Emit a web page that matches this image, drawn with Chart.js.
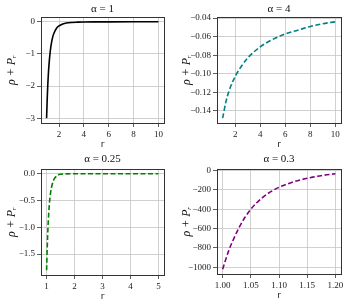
<!DOCTYPE html>
<html>
<head>
<meta charset="utf-8">
<script src="https://cdn.jsdelivr.net/npm/chart.js@4"></script>
<style>
  body { margin: 0; background: #fff; }
  #wrap { position: relative; width: 349px; height: 307px; }
  canvas { position: absolute; }
</style>
</head>
<body>
<div id="wrap">
  <canvas id="c1"></canvas>
  <canvas id="c2"></canvas>
  <canvas id="c3"></canvas>
  <canvas id="c4"></canvas>
</div>
<script>
// alpha = 1
const r1 = [1, 1.05, 1.1, 1.15, 1.2, 1.3, 1.4, 1.5, 1.6, 1.8, 2.0, 2.3, 2.6, 3, 3.5, 4, 5, 6, 8, 10];
const rho1 = [-3, -2.4, -1.93, -1.58, -1.3, -0.9, -0.64, -0.46, -0.35, -0.2, -0.125, -0.065, -0.036, -0.019, -0.01, -0.005, -0.002, -0.001, 0, 0];
// alpha = 4
const r2 = [1, 1.25, 1.5, 2, 2.5, 3, 4, 5, 6, 7, 8, 9, 10];
const rho2 = [-0.148, -0.131, -0.119, -0.103, -0.092, -0.083, -0.071, -0.063, -0.057, -0.053, -0.049, -0.046, -0.044];
// alpha = 0.25
const r3 = [1, 1.025, 1.05, 1.075, 1.1, 1.15, 1.2, 1.25, 1.3, 1.4, 1.5, 1.7, 2, 3, 4, 5];
const rho3 = [-1.8, -1.35, -1.0, -0.75, -0.56, -0.33, -0.2, -0.12, -0.075, -0.025, -0.008, -0.001, 0, 0, 0, 0];
// alpha = 0.3
const r4 = [1.00, 1.01, 1.02, 1.03, 1.04, 1.05, 1.06, 1.07, 1.08, 1.09, 1.10, 1.12, 1.14, 1.16, 1.18, 1.20];
const rho4 = [-1020, -840, -700, -580, -480, -400, -335, -282, -238, -202, -172, -127, -93, -67, -47, -32];

const titles = ['α = 1', 'α = 4', 'α = 0.25', 'α = 0.3'];

const panels = [
  { id: 'c1', x: 0, y: 0, w: 175, h: 150, area: [41, 17, 164, 123],
    xs: r1, ys: rho1, color: '#000000', dash: [],
    xmin: 0.55, xmax: 10.45, xstep: 2, xdec: 0,
    ymin: -3.15, ymax: 0.15, ystep: 1, ydec: 0 },
  { id: 'c2', x: 175, y: 0, w: 174, h: 150, area: [42, 17, 166, 123],
    xs: r2, ys: rho2, color: '#008080', dash: [5, 2.5],
    xmin: 0.55, xmax: 10.45, xstep: 2, xdec: 0,
    ymin: -0.1532, ymax: -0.0388, ystep: 0.02, ydec: 2 },
  { id: 'c3', x: 0, y: 150, w: 175, h: 157, area: [41, 19, 164, 125],
    xs: r3, ys: rho3, color: '#008000', dash: [5, 2.5],
    xmin: 0.8, xmax: 5.2, xstep: 1, xdec: 0,
    ymin: -1.89, ymax: 0.09, ystep: 0.5, ydec: 1 },
  { id: 'c4', x: 175, y: 150, w: 174, h: 157, area: [42, 19, 166, 124],
    xs: r4, ys: rho4, color: '#800080', dash: [5, 2.5],
    xmin: 0.99, xmax: 1.21, xstep: 0.05, xdec: 2,
    ymin: -1069, ymax: 17, ystep: 200, ydec: 0 }
];

// matplotlib-like closed frame around the plot area
const framePlugin = {
  id: 'frame',
  afterDatasetsDraw(chart) {
    const a = chart.chartArea, ctx = chart.ctx;
    ctx.save();
    ctx.strokeStyle = '#333';
    ctx.lineWidth = 1;
    ctx.strokeRect(Math.round(a.left) + 0.5, Math.round(a.top) + 0.5,
      Math.round(a.right - a.left), Math.round(a.bottom - a.top));
    ctx.restore();
  }
};

const fmt = (v, d) => {
  let s = Number(v).toFixed(d);
  if (Number(s) === 0) s = (0).toFixed(d);
  return s.replace('-', '\u2212');
};

const serif = 'Liberation Serif';
const xAxisH = 27;

panels.forEach((p, i) => {
  const cv = document.getElementById(p.id);
  cv.width = p.w; cv.height = p.h;
  cv.style.left = p.x + 'px'; cv.style.top = p.y + 'px';
  cv.style.width = p.w + 'px'; cv.style.height = p.h + 'px';
  const [al, at, ar, ab] = p.area;

  new Chart(cv, {
    type: 'line',
    data: {
      datasets: [{
        data: p.xs.map((x, k) => ({ x: x, y: p.ys[k] })),
        borderColor: p.color,
        borderWidth: 1.6,
        borderDash: p.dash,
        pointRadius: 0,
        fill: false,
        cubicInterpolationMode: 'monotone'
      }]
    },
    options: {
      responsive: false,
      animation: false,
      devicePixelRatio: 1,
      layout: { padding: { left: 0, right: p.w - ar, top: 0, bottom: p.h - ab - xAxisH } },
      plugins: {
        legend: { display: false },
        tooltip: { enabled: false },
        title: {
          display: true,
          text: titles[i],
          fullSize: false,
          color: '#111',
          font: { family: serif, size: 11, weight: 'normal', lineHeight: 1.2 },
          padding: { top: 3, bottom: at - 16.2 }
        }
      },
      scales: {
        x: {
          type: 'linear',
          min: p.xmin, max: p.xmax,
          afterFit: s => { s.height = xAxisH; },
          ticks: {
            stepSize: p.xstep,
            includeBounds: false,
            color: '#222',
            padding: 2,
            maxRotation: 0,
            font: { family: serif, size: 9 },
            callback: v => fmt(v, p.xdec)
          },
          grid: { color: '#c4c4c4', lineWidth: 0.8, tickColor: '#333', tickLength: 4 },
          border: { color: '#333', width: 1 },
          title: { display: true, text: 'r', color: '#222', padding: 0,
                   font: { family: 'DejaVu Sans', size: 9 } }
        },
        y: {
          type: 'linear',
          min: p.ymin, max: p.ymax,
          afterFit: s => { s.width = al; },
          ticks: {
            stepSize: p.ystep,
            includeBounds: false,
            color: '#222',
            padding: 2,
            font: { family: serif, size: 9 },
            callback: v => fmt(v, p.ydec)
          },
          grid: { color: '#c4c4c4', lineWidth: 0.8, tickColor: '#333', tickLength: 4 },
          border: { color: '#333', width: 1 },
          title: { display: true, text: 'ρ + Pᵣ', color: '#111', padding: { top: 5, bottom: 0 },
                   font: { family: serif, size: 12, style: 'italic' } }
        }
      }
    },
    plugins: [framePlugin]
  });
});
</script>
</body>
</html>
